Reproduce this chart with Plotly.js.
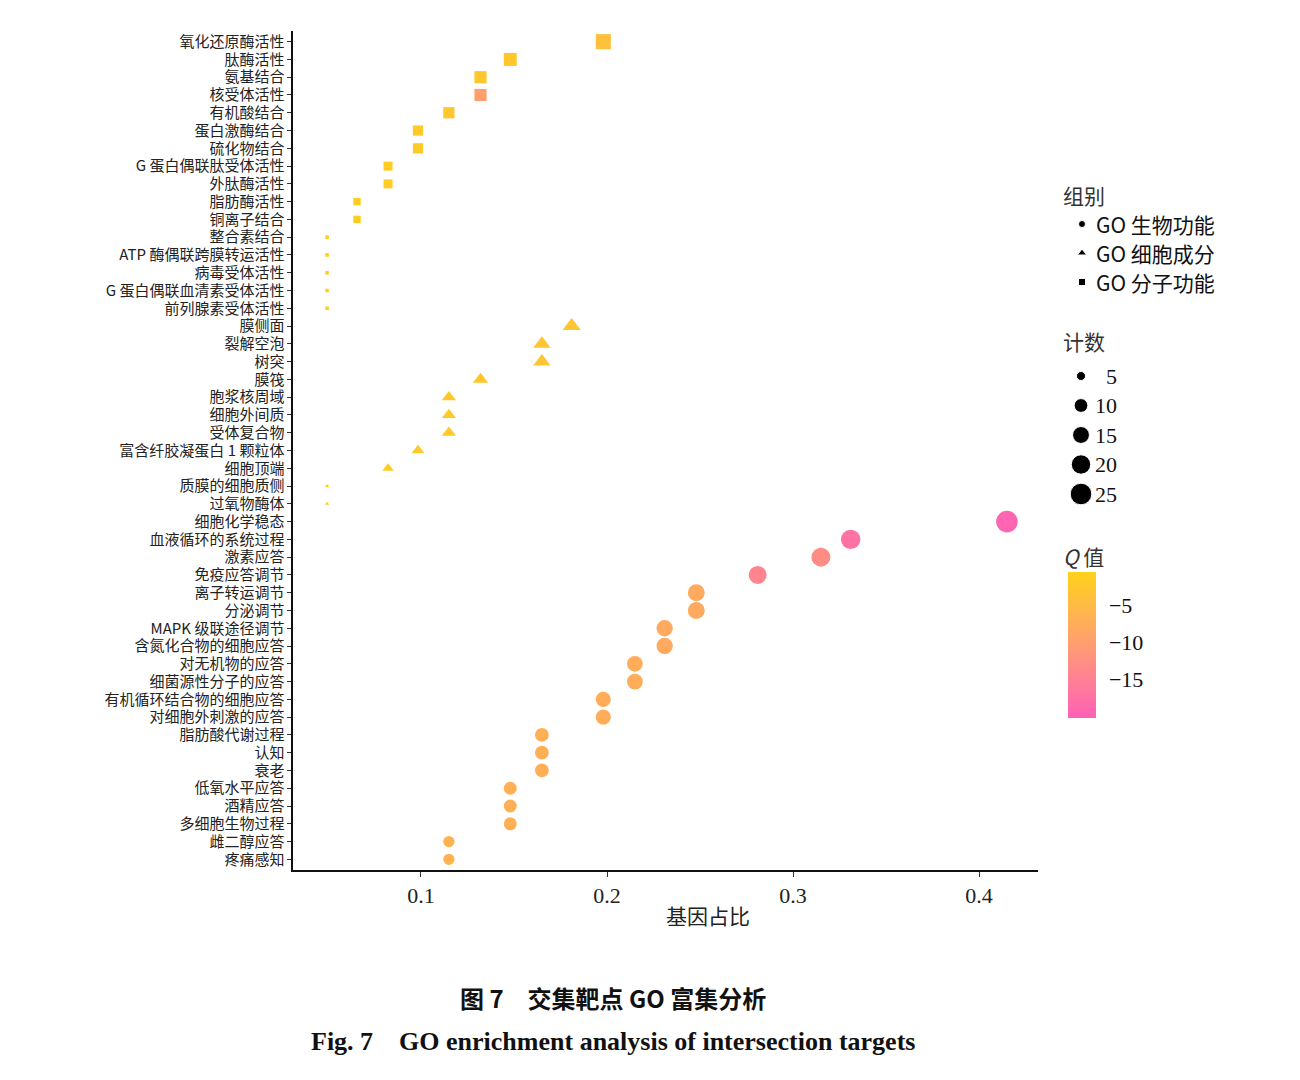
<!DOCTYPE html>
<html><head><meta charset="utf-8">
<script src="https://cdn.plot.ly/plotly-3.0.1.min.js"></script>
<style>body{margin:0;background:#fff}#chart{width:1300px;height:1080px}</style>
</head><body><div id="chart"></div>
<script>
// ---- data ----
const mfTerms = ["氧化还原酶活性","肽酶活性","氨基结合","核受体活性","有机酸结合","蛋白激酶结合","硫化物结合","G 蛋白偶联肽受体活性","外肽酶活性","脂肪酶活性","铜离子结合","整合素结合","ATP 酶偶联跨膜转运活性","病毒受体活性","G 蛋白偶联血清素受体活性","前列腺素受体活性"];
const mfRatio = [0.198,0.148,0.132,0.132,0.115,0.0984,0.0984,0.0823,0.0823,0.0656,0.0656,0.0495,0.0495,0.0495,0.0495,0.0495];
const mfCount = [12,9,8,8,7,6,6,5,5,4,4,3,3,3,3,3];
const mfQ     = [-4,-2.5,-2.5,-10,-2.5,-2,-2,-1.5,-1.5,-1.5,-1.5,-1,-1,-1,-1,-1];

const ccTerms = ["膜侧面","裂解空泡","树突","膜筏","胞浆核周域","细胞外间质","受体复合物","富含纤胶凝蛋白 1 颗粒体","细胞顶端","质膜的细胞质侧","过氧物酶体"];
const ccRatio = [0.181,0.165,0.165,0.132,0.115,0.115,0.115,0.0984,0.0823,0.0495,0.0495];
const ccCount = [11,10,10,8,7,7,7,6,5,3,3];
const ccQ     = [-3,-3,-3,-2.5,-2,-2,-2,-2,-1.5,-1,-1];

const bpTerms = ["细胞化学稳态","血液循环的系统过程","激素应答","免疫应答调节","离子转运调节","分泌调节","MAPK 级联途径调节","含氮化合物的细胞应答","对无机物的应答","细菌源性分子的应答","有机循环结合物的细胞应答","对细胞外刺激的应答","脂肪酸代谢过程","认知","衰老","低氧水平应答","酒精应答","多细胞生物过程","雌二醇应答","疼痛感知"];
const bpRatio = [0.415,0.331,0.315,0.281,0.248,0.248,0.231,0.231,0.215,0.215,0.198,0.198,0.165,0.165,0.165,0.148,0.148,0.148,0.115,0.115];
const bpCount = [25,20,19,17,15,15,14,14,13,13,12,12,10,10,10,9,9,9,7,7];
const bpQ     = [-19.5,-17.5,-13,-14.5,-8,-8,-8,-8,-7.5,-7.5,-7.5,-7.5,-7,-7,-7,-7,-7,-7,-6.5,-6.5];

const groupLabels = ["GO 生物功能","GO 细胞成分","GO 分子功能"];
const sizeBreaks = [5,10,15,20,25];
const qTicks = [-5,-10,-15];

// ---- layout helpers ----
const W=1300,H=1080,L=293,R=60,T=31,B=210;
const PW=W-L-R, PH=H-T-B;
const px = x => (x-L)/PW;
const py = y => (H-B-y)/PH;
const countMin=3, countMax=25;
const sz = c => 3.6*(1+5*Math.sqrt((c-countMin)/(countMax-countMin)));

const allTerms = mfTerms.concat(ccTerms, bpTerms);
const serif = "Liberation Serif, Times New Roman, serif";
const cjk = "Noto Sans CJK SC, sans-serif";

function mk(terms, ratio, count, q, symbol, k){
  return {type:'scatter', mode:'markers', x:ratio, y:terms, showlegend:false,
    hoverinfo:'x+y',
    marker:{symbol:symbol, size:count.map(c=>sz(c)*k), color:q, coloraxis:'coloraxis', opacity:1, line:{width:0}}};
}
const traces = [
  mk(bpTerms,bpRatio,bpCount,bpQ,'circle',1),
  mk(ccTerms,ccRatio,ccCount,ccQ,'triangle-up',1.1),
  mk(mfTerms,mfRatio,mfCount,mfQ,'square',1)
];

// legend keys in an auxiliary pixel-like subplot
const gSymbols=['circle','triangle-up','square'];
const gY0=224, gStep=29;
traces.push({type:'scatter',mode:'markers',xaxis:'x2',yaxis:'y2',showlegend:false,hoverinfo:'skip',
  x:groupLabels.map(()=>1082), y:groupLabels.map((_,i)=>gY0+i*gStep),
  marker:{symbol:gSymbols,size:[7,8,7],color:'#000',opacity:1}});
const sY0=376, sStep=29.5;
traces.push({type:'scatter',mode:'markers',xaxis:'x2',yaxis:'y2',showlegend:false,hoverinfo:'skip',
  x:sizeBreaks.map(()=>1081), y:sizeBreaks.map((_,i)=>sY0+i*sStep),
  marker:{symbol:'circle',size:sizeBreaks.map(sz),color:'#000',opacity:1}});

const ann = [];
ann.push({xref:'x2',yref:'y2',x:1061,y:195,text:'组别',showarrow:false,xanchor:'left',yanchor:'middle',font:{family:cjk,size:21,color:'#333'}});
groupLabels.forEach((g,i)=>ann.push({xref:'x2',yref:'y2',x:1094,y:gY0+i*gStep,text:g,showarrow:false,xanchor:'left',yanchor:'middle',font:{family:cjk,size:21,color:'#111'}}));
ann.push({xref:'x2',yref:'y2',x:1061,y:341,text:'计数',showarrow:false,xanchor:'left',yanchor:'middle',font:{family:cjk,size:21,color:'#333'}});
sizeBreaks.forEach((s,i)=>ann.push({xref:'x2',yref:'y2',x:1119,y:sY0+i*sStep,text:String(s),showarrow:false,xanchor:'right',yanchor:'middle',font:{family:serif,size:22,color:'#111'}}));
ann.push({xref:'x2',yref:'y2',x:1061,y:556,text:'<i>Q</i> 值',showarrow:false,xanchor:'left',yanchor:'middle',font:{family:cjk,size:21,color:'#333'}});
// axis title & captions
ann.push({xref:'paper',yref:'paper',x:px(708),y:py(915),text:'基因占比',showarrow:false,xanchor:'center',yanchor:'middle',font:{family:cjk,size:21,color:'#222'}});
ann.push({xref:'paper',yref:'paper',x:px(613),y:py(998),text:'<b>图 7　交集靶点 GO 富集分析</b>',showarrow:false,xanchor:'center',yanchor:'middle',font:{family:cjk,size:24,color:'#111'}});
ann.push({xref:'paper',yref:'paper',x:px(613),y:py(1041),text:'<b>Fig. 7　GO enrichment analysis of intersection targets</b>',showarrow:false,xanchor:'center',yanchor:'middle',font:{family:serif,size:26,color:'#111'}});

const layout = {
  width:W,height:H,margin:{l:L,r:R,t:T,b:B},
  paper_bgcolor:'#fff',plot_bgcolor:'#fff',showlegend:false,
  xaxis:{domain:[0,px(1038)],range:[0.0312,0.4317],tickvals:[0.1,0.2,0.3,0.4],ticktext:['0.1','0.2','0.3','0.4'],
    showgrid:false,zeroline:false,showline:true,linecolor:'#111',linewidth:1.6,
    ticks:'outside',ticklen:5,tickwidth:1,tickcolor:'#333',
    tickfont:{family:serif,size:22,color:'#222'}},
  yaxis:{type:'category',categoryorder:'array',categoryarray:allTerms,range:[allTerms.length-1+0.6,-0.6],
    tickmode:'array',tickvals:allTerms,ticktext:allTerms,
    showgrid:false,zeroline:false,showline:true,linecolor:'#111',linewidth:1.6,
    ticks:'outside',ticklen:4,tickwidth:1,tickcolor:'#333',
    tickfont:{family:cjk,size:15,color:'#222'}},
  xaxis2:{domain:[px(1050),1],range:[1050,1050+(1-px(1050))*PW],visible:false,fixedrange:true,anchor:'y2'},
  yaxis2:{domain:[0,1],range:[H-B,T],visible:false,fixedrange:true,anchor:'x2'},
  coloraxis:{cmin:-20.3,cmax:-0.4,
    colorscale:[[0,'#FF61B6'],[0.25,'#FF7F96'],[0.5,'#FF9D72'],[0.75,'#FFB948'],[1,'#FFD21A']],
    colorbar:{x:px(1068),xanchor:'left',xref:'paper',y:py(572),yanchor:'top',yref:'paper',
      len:146,lenmode:'pixels',thickness:28,thicknessmode:'pixels',outlinewidth:0,
      tickvals:qTicks,ticks:'outside',ticklen:9,tickcolor:'rgba(0,0,0,0)',tickwidth:1,
      tickfont:{family:serif,size:22,color:'#111'},xpad:0,ypad:0,
      title:{text:''}}},
  annotations:ann
};
Plotly.newPlot('chart',traces,layout,{displayModeBar:false,staticPlot:true});
</script></body></html>
